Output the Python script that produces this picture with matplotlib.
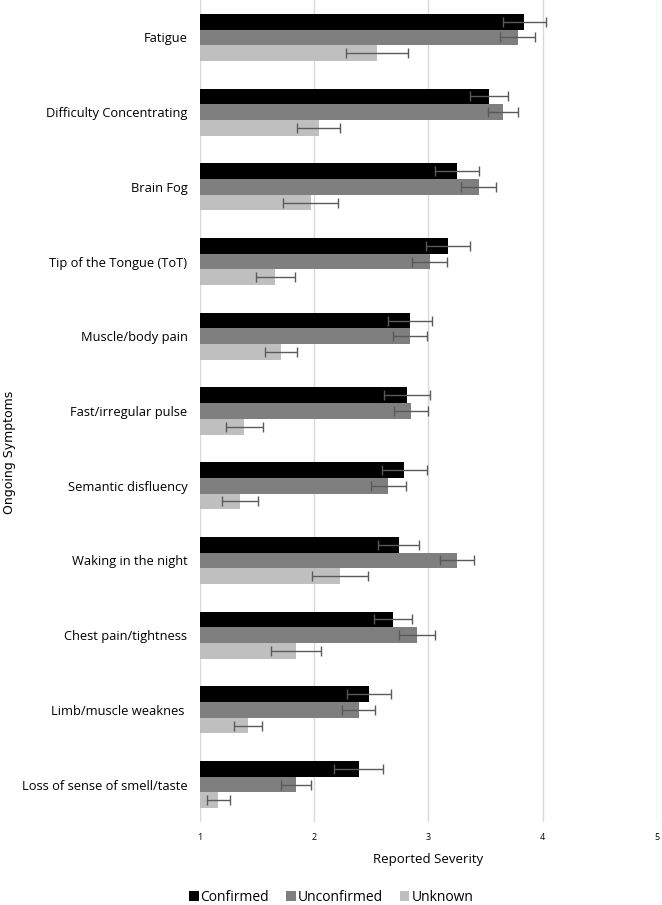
import numpy as np
import matplotlib.pyplot as plt

symptoms = ['Fatigue', 'Difficulty Concentrating', 'Brain Fog', 'Tip of the Tongue (ToT)',
            'Muscle/body pain', 'Fast/irregular pulse', 'Semantic disfluency',
            'Waking in the night', 'Chest pain/tightness', 'Limb/muscle weaknes ',
            'Loss of sense of smell/taste']

confirmed = [3.84, 3.53, 3.25, 3.17, 2.84, 2.81, 2.79, 2.74, 2.69, 2.48, 2.39]
confirmed_err = [0.19, 0.17, 0.195, 0.19, 0.195, 0.2, 0.2, 0.18, 0.17, 0.19, 0.215]
unconfirmed = [3.78, 3.65, 3.44, 3.01, 2.84, 2.85, 2.65, 3.25, 2.90, 2.39, 1.84]
unconfirmed_err = [0.15, 0.13, 0.155, 0.15, 0.15, 0.15, 0.155, 0.15, 0.155, 0.145, 0.13]
unknown = [2.55, 2.04, 1.97, 1.66, 1.71, 1.39, 1.35, 2.23, 1.84, 1.42, 1.16]
unknown_err = [0.27, 0.19, 0.24, 0.17, 0.14, 0.16, 0.16, 0.245, 0.22, 0.12, 0.10]

series = [('Confirmed', confirmed, confirmed_err, '#000000'),
          ('Unconfirmed', unconfirmed, unconfirmed_err, '#7f7f7f'),
          ('Unknown', unknown, unknown_err, '#bfbfbf')]

plt.rcParams['font.family'] = ['Open Sans', 'DejaVu Sans']

fig = plt.figure(figsize=(6.62, 9.05), dpi=100)
ax = fig.add_axes([0.302, 0.0917, 0.6903, 0.9083])

y = np.arange(len(symptoms))
h = 0.21
for i, (name, vals, errs, col) in enumerate(series):
    base = 1
    ax.barh(y + (i - 1) * h, np.array(vals) - base, left=base, height=h, color=col,
            label=name, zorder=2)
    ax.errorbar(vals, y + (i - 1) * h, xerr=errs, fmt='none', ecolor='#5a5a5a',
                elinewidth=1, capsize=3.5, capthick=1, zorder=3)

ax.set_xlim(1, 5)
ax.set_ylim(len(symptoms) - 0.5, -0.5)
ax.set_xticks([1, 2, 3, 4, 5])
ax.tick_params(axis='x', labelsize=6.5, length=0, pad=8)
ax.set_yticks(y)
ax.set_yticklabels(symptoms, fontsize=9.3)
ax.tick_params(axis='y', length=0, pad=9)
ax.grid(axis='x', color='#d9d9d9', linewidth=1, zorder=0)
ax.set_axisbelow(True)
for s in ax.spines.values():
    s.set_visible(False)

ax.set_xlabel('Reported Severity', fontsize=9.5, labelpad=8)
fig.text(0.014, 0.5, 'Ongoing Symptoms', rotation=90, va='center', ha='center',
         fontsize=9, family=['Liberation Sans Narrow', 'DejaVu Sans'])

fig.legend(loc='lower center', bbox_to_anchor=(0.5, -0.014), ncol=3, frameon=False,
           fontsize=10, handlelength=0.7, handleheight=0.7, handletextpad=0.15,
           columnspacing=1.2)

fig.savefig('out.png', dpi=100)
